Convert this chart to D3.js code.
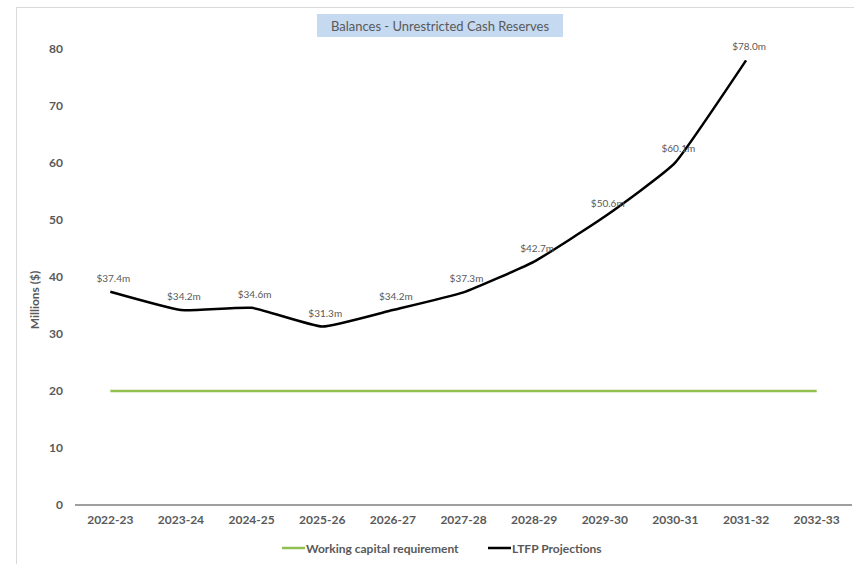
<!DOCTYPE html>
<html>
<head>
<meta charset="utf-8">
<script src="https://cdn.jsdelivr.net/npm/d3@7"></script>
<style>
  html, body { margin: 0; padding: 0; background: #fff; }
  svg { display: block; font-family: Lato, "Open Sans", sans-serif; }
</style>
</head>
<body>
<svg id="chart" width="854" height="564"></svg>
<script>
// Financial years shown on the horizontal axis
const years = ["2022-23", "2023-24", "2024-25", "2025-26", "2026-27", "2027-28",
               "2028-29", "2029-30", "2030-31", "2031-32", "2032-33"];
// Minimum working capital requirement ($m), flat across all years
const workingCapital = [20, 20, 20, 20, 20, 20, 20, 20, 20, 20, 20];
// LTFP projected unrestricted cash reserves ($m)
const projections = [37.4, 34.2, 34.6, 31.3, 34.2, 37.3, 42.7, 50.6, 60.1, 78.0];
const yTicks = [0, 10, 20, 30, 40, 50, 60, 70, 80];

const svg = d3.select("#chart");
const textColor = "#595959";

// chart-area frame
svg.append("rect")
  .attr("x", 16.5).attr("y", 7.5)
  .attr("width", 860).attr("height", 600)
  .attr("fill", "none").attr("stroke", "#d9d9d9");

const x = d3.scaleBand().domain(years).range([75, 852]);
const y = d3.scaleLinear().domain([0, 80]).range([505, 49]);
const cx = d => x(d) + x.bandwidth() / 2;

// title
const titleG = svg.append("g");
titleG.append("rect")
  .attr("x", 317).attr("y", 14).attr("width", 246).attr("height", 23)
  .attr("fill", "#c5d9f1");
titleG.append("text")
  .attr("x", 440).attr("y", 30.5)
  .attr("text-anchor", "middle")
  .attr("font-size", 13)
  .attr("fill", textColor)
  .text("Balances - Unrestricted Cash Reserves");

// y axis labels
const yAxis = d3.axisLeft(y).tickValues(yTicks).tickSize(0).tickPadding(0);
svg.append("g")
  .attr("transform", "translate(63,0)")
  .call(yAxis)
  .call(g => g.select(".domain").remove())
  .call(g => g.selectAll("text")
    .attr("font-family", "Lato, sans-serif")
    .attr("font-size", 12).attr("font-weight", "bold")
    .attr("fill", textColor));

svg.append("text")
  .attr("transform", "translate(39,300) rotate(-90)")
  .attr("text-anchor", "middle")
  .attr("font-size", 12).attr("font-weight", "bold")
  .attr("fill", textColor)
  .text("Millions ($)");

// x axis
const xAxis = d3.axisBottom(x).tickSize(0).tickPadding(10);
svg.append("g")
  .attr("transform", "translate(0,505)")
  .call(xAxis)
  .call(g => g.select(".domain").attr("stroke", "#7f7f7f").attr("stroke-width", 1.5)
    .attr("d", "M75,0H852"))
  .call(g => g.selectAll("text")
    .attr("font-family", "Lato, sans-serif")
    .attr("font-size", 12).attr("font-weight", "bold")
    .attr("fill", textColor));

// working capital line
svg.append("path")
  .datum(workingCapital)
  .attr("fill", "none")
  .attr("stroke", "#92c050")
  .attr("stroke-width", 2.5)
  .attr("d", d3.line().x((d, i) => cx(years[i])).y(d => y(d)));

// projections line (lightly smoothed)
svg.append("path")
  .datum(projections)
  .attr("fill", "none")
  .attr("stroke", "#000")
  .attr("stroke-width", 2.5)
  .attr("stroke-linejoin", "round")
  .attr("d", d3.line().curve(d3.curveCardinal.tension(0.6))
    .x((d, i) => cx(years[i])).y(d => y(d)));

// data labels
svg.append("g").selectAll("text")
  .data(projections)
  .join("text")
  .attr("x", (d, i) => cx(years[i]) + 3)
  .attr("y", d => y(d) - 10)
  .attr("text-anchor", "middle")
  .attr("font-size", 10)
  .attr("fill", textColor)
  .text(d => "$" + d.toFixed(1) + "m");

// legend
const legend = [
  { name: "Working capital requirement", color: "#92c050", x: 282 },
  { name: "LTFP Projections", color: "#000", x: 488 }
];
const lg = svg.append("g").selectAll("g").data(legend).join("g")
  .attr("transform", d => `translate(${d.x},548)`);
lg.append("line")
  .attr("x1", 0).attr("x2", 23).attr("y1", 0).attr("y2", 0)
  .attr("stroke", d => d.color).attr("stroke-width", 2.5);
lg.append("text")
  .attr("x", 24).attr("y", 4.5)
  .attr("font-size", 12).attr("font-weight", "bold")
  .attr("fill", textColor)
  .text(d => d.name);
</script>
</body>
</html>
